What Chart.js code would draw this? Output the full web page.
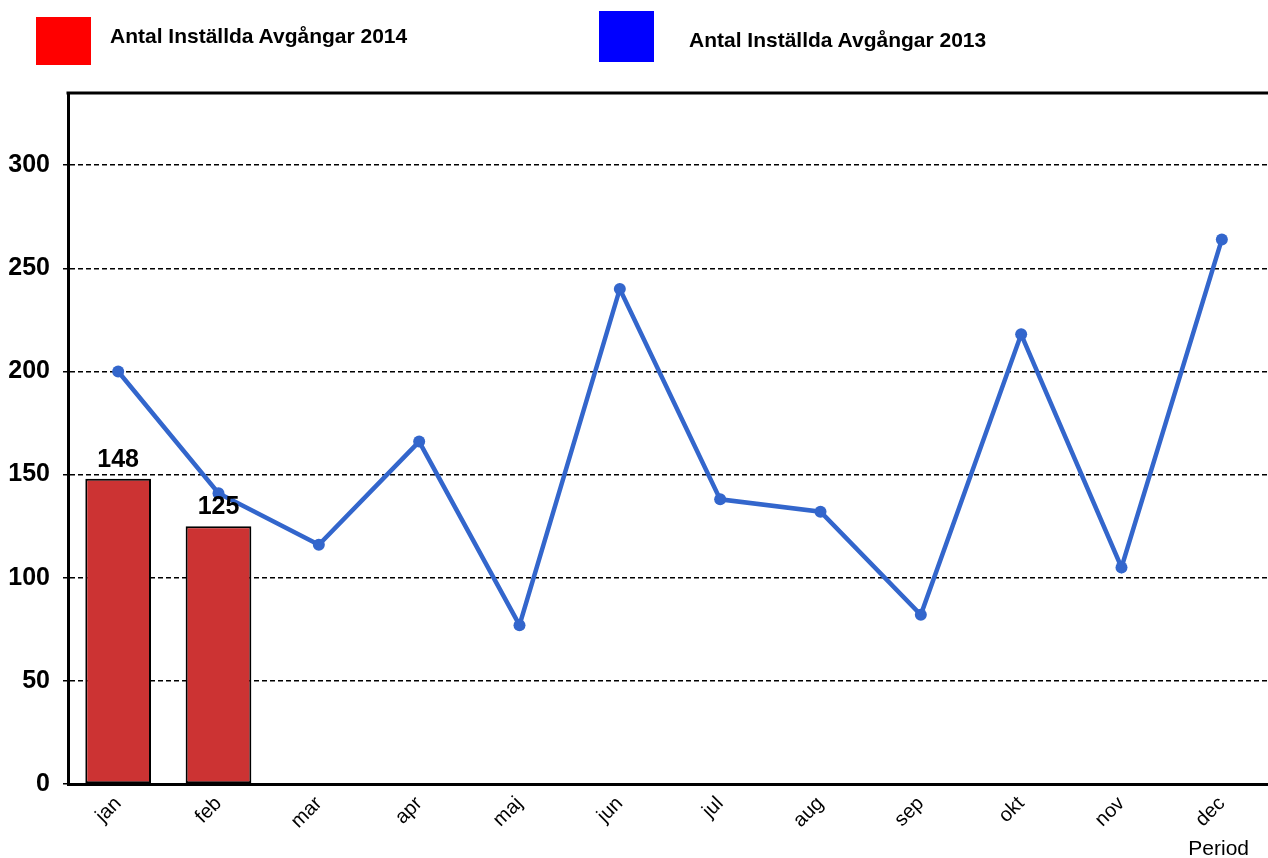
<!DOCTYPE html>
<html>
<head>
<meta charset="utf-8">
<script src="https://cdn.jsdelivr.net/npm/chart.js@4"></script>
<style>
  html, body { margin: 0; padding: 0; background: #fff; overflow: hidden; }
  #wrap { position: relative; width: 1268px; height: 858px; overflow: hidden; }
  #chart { position: absolute; left: 0; top: 0; }
  .lg-box { position: absolute; }
  .lg-text { position: absolute; font: bold 21px/21px "Liberation Sans", Arial, sans-serif; color: #000; white-space: nowrap; }
</style>
</head>
<body>
<div id="wrap">
  <canvas id="chart" width="1278" height="858"></canvas>
  <div class="lg-box" style="left:36px;top:17px;width:55px;height:48px;background:#ff0000"></div>
  <div class="lg-text" style="left:110px;top:25px">Antal Inställda Avgångar 2014</div>
  <div class="lg-box" style="left:599px;top:11px;width:55px;height:51px;background:#0000ff"></div>
  <div class="lg-text" style="left:689px;top:29px">Antal Inställda Avgångar 2013</div>
</div>
<script>
// Data
const months = ['jan', 'feb', 'mar', 'apr', 'maj', 'jun', 'jul', 'aug', 'sep', 'okt', 'nov', 'dec'];
const cancelled2014 = [148, 125, null, null, null, null, null, null, null, null, null, null];
const cancelled2013 = [200, 141, 116, 166, 77, 240, 138, 132, 82, 218, 105, 264];
const yTicks = [0, 50, 100, 150, 200, 250, 300];

const FONT = '"Liberation Sans", Arial, sans-serif';

// Etiquetas de valor, borde superior y título del eje
const extras = {
  id: 'extras',
  afterDatasetsDraw(chart) {
    const { ctx, chartArea } = chart;
    ctx.save();
    // borde superior
    ctx.strokeStyle = '#000';
    ctx.lineWidth = 3;
    ctx.beginPath();
    ctx.moveTo(chartArea.left - 1.5, chartArea.top);
    ctx.lineTo(chartArea.right, chartArea.top);
    ctx.stroke();
    // valores encima de las barras
    const meta = chart.getDatasetMeta(0);
    ctx.font = 'bold 25px ' + FONT;
    ctx.fillStyle = '#000';
    ctx.textAlign = 'center';
    ctx.textBaseline = 'alphabetic';
    meta.data.forEach((bar, i) => {
      const v = cancelled2014[i];
      if (v == null) return;
      ctx.fillText(String(v), bar.x, bar.y - 12);
    });
    // título "Period"
    ctx.font = '21px ' + FONT;
    ctx.textAlign = 'right';
    ctx.fillText('Period', chartArea.right - 23, chartArea.bottom + 71);
    ctx.restore();
  }
};

new Chart(document.getElementById('chart'), {
  type: 'bar',
  data: {
    labels: months,
    datasets: [{
      type: 'bar',
      label: 'Antal Inställda Avgångar 2014',
      data: cancelled2014,
      backgroundColor: '#cc3333',
      borderColor: '#000',
      borderWidth: 2,
      borderSkipped: false,
      barPercentage: 0.655,
      categoryPercentage: 1,
      order: 1
    }, {
      type: 'line',
      label: 'Antal Inställda Avgångar 2013',
      data: cancelled2013,
      borderColor: '#3366cc',
      backgroundColor: '#3366cc',
      borderWidth: 4.5,
      pointRadius: 6,
      pointBackgroundColor: '#3366cc',
      pointBorderWidth: 0,
      tension: 0,
      order: 0
    }]
  },
  options: {
    responsive: false,
    animation: false,
    layout: { padding: { top: 93, left: 0, right: 0, bottom: 0 } },
    plugins: {
      legend: { display: false },
      tooltip: { enabled: false }
    },
    scales: {
      x: {
        grid: { display: false, drawTicks: false },
        border: { display: true, color: '#000', width: 3 },
        ticks: {
          color: '#000',
          font: { family: FONT, size: 20 },
          minRotation: 45,
          maxRotation: 45,
          padding: 8
        },
        afterFit(scale) { scale.height = 74; }
      },
      y: {
        min: 0,
        max: 335,
        afterBuildTicks(scale) {
          scale.ticks = yTicks.map(v => ({ value: v }));
        },
        grid: {
          color: '#000',
          lineWidth: 1.5,
          tickLength: 5,
          drawTicks: true
        },
        border: { display: true, color: '#000', width: 3, dash: [5, 3] },
        ticks: {
          color: '#000',
          font: { family: FONT, size: 25, weight: 'bold' },
          padding: 13
        },
        afterFit(scale) { scale.width = 68; }
      }
    }
  },
  plugins: [extras]
});
</script>
</body>
</html>
